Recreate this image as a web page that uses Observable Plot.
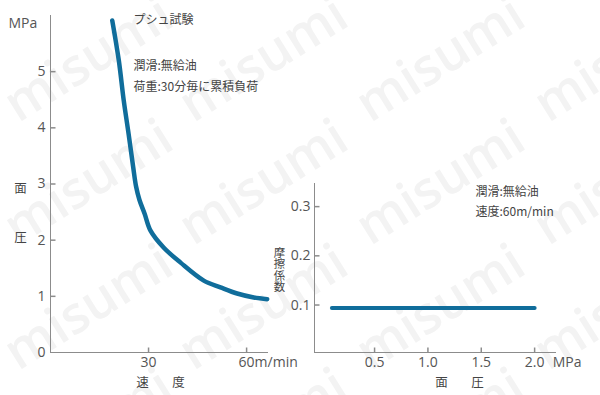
<!DOCTYPE html>
<html><head><meta charset="utf-8">
<script src="https://cdn.jsdelivr.net/npm/d3@7"></script>
<script src="https://cdn.jsdelivr.net/npm/@observablehq/plot@0.6"></script>
<style>
html,body{margin:0;padding:0;background:#fff;}
#wrap{position:relative;width:600px;height:395px;overflow:hidden;background:#fff;}
#wrap > svg{position:absolute;left:0;top:0;}
</style></head><body><div id="wrap"></div>
<script>
// ---- data ----
const speed    = [18.9, 20.9, 22.4, 23.9, 25.3, 26.2, 27.2, 28.8, 30.6, 34.6, 39.8, 46.9, 52.0, 57.1, 62.2, 66.3];
const pressure = [5.91, 5.20, 4.49, 3.89, 3.30, 2.95, 2.72, 2.47, 2.17, 1.87, 1.60, 1.28, 1.16, 1.05, 0.98, 0.95];
const leftXTicks = [30, 60];
const leftYTicks = [0, 1, 2, 3, 4, 5];
const leftXDomain = [0, 66.7];
const leftYDomain = [0, 6];

const facePressure = [0.1, 2.0];
const friction     = [0.094, 0.094];
const rightXTicks = [0.5, 1.0, 1.5, 2.0];
const rightYTicks = [0.1, 0.2, 0.3];
const rightXDomain = [-0.063, 2.205];
const rightYDomain = [0.0035, 0.347];

const leftNotes  = ["プシュ試験", "潤滑:無給油", "荷重:30分毎に累積負荷"];
const rightNotes = ["潤滑:無給油", "速度:60m/min"];
const frictionTitle = "摩擦係数";

// ---- styles ----
const BLUE = "#106d9b";
const AXIS = "#8c8c8c";
const NUM_FONT = "'Open Sans', 'Noto Sans', sans-serif";
const JP_FONT = "'Noto Sans CJK JP', sans-serif";
const TXT = "#444";

const tickRight = {draw(c){ c.moveTo(0,0); c.lineTo(5,0); }};
const tickUp    = {draw(c){ c.moveTo(0,0); c.lineTo(0,-5); }};

function label(str, frameAnchor, dx, dy, opts = {}) {
  return Plot.text([str], {text: d => d, frameAnchor, dx, dy, fill: TXT,
    fontFamily: JP_FONT, fontSize: 12, lineAnchor: "middle", ...opts});
}

const wrap = d3.select("#wrap");

// watermark
const wm = wrap.append("svg").attr("width", 600).attr("height", 395);
const wmCols = [90, 265, 442, 620], wmRows = [62, 185, 310, 434];
for (const cy of wmRows) for (const cx of wmCols) {
  wm.append("text").attr("x", cx).attr("y", cy)
    .attr("transform", `rotate(-32 ${cx} ${cy})`)
    .attr("text-anchor", "middle").attr("dominant-baseline", "middle")
    .attr("font-family", "'Open Sans', sans-serif").attr("font-weight", 600)
    .attr("font-size", 52).attr("fill", "#f3f3f3").text("misumi");
}

const speedData = speed.map((s, i) => ({s, p: pressure[i]}));
const frictionData = facePressure.map((x, i) => ({x, f: friction[i]}));

const left = Plot.plot({
  width: 600, height: 395,
  marginLeft: 50, marginRight: 332, marginTop: 15, marginBottom: 43,
  x: {domain: leftXDomain},
  y: {domain: leftYDomain},
  style: {background: "transparent", fontFamily: NUM_FONT, color: "#555", overflow: "visible"},
  marks: [
    Plot.ruleX([leftXDomain[0]], {stroke: AXIS}),
    Plot.ruleY([leftYDomain[0]], {stroke: AXIS}),
    Plot.dot(leftYTicks.filter(d => d > 0), {y: d => d, frameAnchor: "left", symbol: tickRight, stroke: AXIS, fill: "none"}),
    Plot.dot(leftXTicks, {x: d => d, frameAnchor: "bottom", symbol: tickUp, stroke: AXIS, fill: "none"}),
    Plot.axisY({ticks: leftYTicks, tickSize: 0, tickPadding: 5, label: null, fontSize: 14, fill: "#555", tickFormat: d => String(d)}),
    Plot.axisX({ticks: leftXTicks, tickSize: 0, tickPadding: 5, label: null, fontSize: 14, fill: "#555", tickFormat: d => String(d)}),
    Plot.text([leftXTicks[leftXTicks.length - 1]], {x: d => d, frameAnchor: "bottom", text: () => "m/min", dx: 8, dy: 5,
      lineAnchor: "top", textAnchor: "start", fontSize: 14, fill: "#555", fontFamily: NUM_FONT}),
    Plot.line(speedData, {x: "s", y: "p", stroke: BLUE, strokeWidth: 4.5, curve: "catmull-rom", strokeLinecap: "round", strokeLinejoin: "round"}),
    label("MPa", "top-left", -42, 8, {textAnchor: "start", fontFamily: NUM_FONT, fontSize: 14, fill: "#555"}),
    label("面", "top-left", -30, 173, {textAnchor: "middle", fontSize: 12.5}),
    label("圧", "top-left", -30, 222, {textAnchor: "middle", fontSize: 12.5}),
    label(leftNotes[0], "top-left", 83, 5, {textAnchor: "start"}),
    label(leftNotes[1], "top-left", 83, 51, {textAnchor: "start"}),
    label(leftNotes[2], "top-left", 83, 72, {textAnchor: "start"}),
    label("速", "bottom-left", 92, 30, {textAnchor: "middle", fontSize: 12.5}),
    label("度", "bottom-left", 128, 30, {textAnchor: "middle", fontSize: 12.5})
  ]
});

const right = Plot.plot({
  width: 600, height: 395,
  marginLeft: 314, marginRight: 44, marginTop: 183, marginBottom: 43,
  x: {domain: rightXDomain},
  y: {domain: rightYDomain},
  style: {background: "transparent", fontFamily: NUM_FONT, color: "#555", overflow: "visible"},
  marks: [
    Plot.ruleX([rightXDomain[0]], {stroke: AXIS}),
    Plot.ruleY([rightYDomain[0]], {stroke: AXIS}),
    Plot.dot(rightYTicks, {y: d => d, frameAnchor: "left", symbol: tickRight, stroke: AXIS, fill: "none"}),
    Plot.dot(rightXTicks, {x: d => d, frameAnchor: "bottom", symbol: tickUp, stroke: AXIS, fill: "none"}),
    Plot.axisY({ticks: rightYTicks, tickSize: 0, tickPadding: 4, label: null, fontSize: 14, fill: "#555", tickFormat: d3.format(".1f")}),
    Plot.axisX({ticks: rightXTicks, tickSize: 0, tickPadding: 5, label: null, fontSize: 14, fill: "#555", tickFormat: d3.format(".1f")}),
    Plot.text([rightXTicks[rightXTicks.length - 1]], {x: d => d, frameAnchor: "bottom", text: () => "MPa", dx: 18, dy: 5,
      lineAnchor: "top", textAnchor: "start", fontSize: 14, fill: "#555", fontFamily: NUM_FONT}),
    Plot.line(frictionData, {x: "x", y: "f", stroke: BLUE, strokeWidth: 4, strokeLinecap: "round"}),
    label(frictionTitle, "top-left", -35, 82.5, {textAnchor: "middle", fontSize: 11.4}),
    label(rightNotes[0], "top-left", 161, 9, {textAnchor: "start"}),
    label(rightNotes[1], "top-left", 161, 29, {textAnchor: "start"}),
    label("面", "bottom-left", 127, 30, {textAnchor: "middle", fontSize: 12.5}),
    label("圧", "bottom-left", 163, 30, {textAnchor: "middle", fontSize: 12.5})
  ]
});

// set the friction-coefficient title in vertical writing
d3.select(right).selectAll("text")
  .filter(function() { return this.textContent === frictionTitle; })
  .attr("dy", null)
  .attr("writing-mode", "vertical-rl")
  .style("writing-mode", "vertical-rl")
  .attr("text-anchor", "middle");

wrap.node().appendChild(left);
wrap.node().appendChild(right);
</script>
</body></html>
